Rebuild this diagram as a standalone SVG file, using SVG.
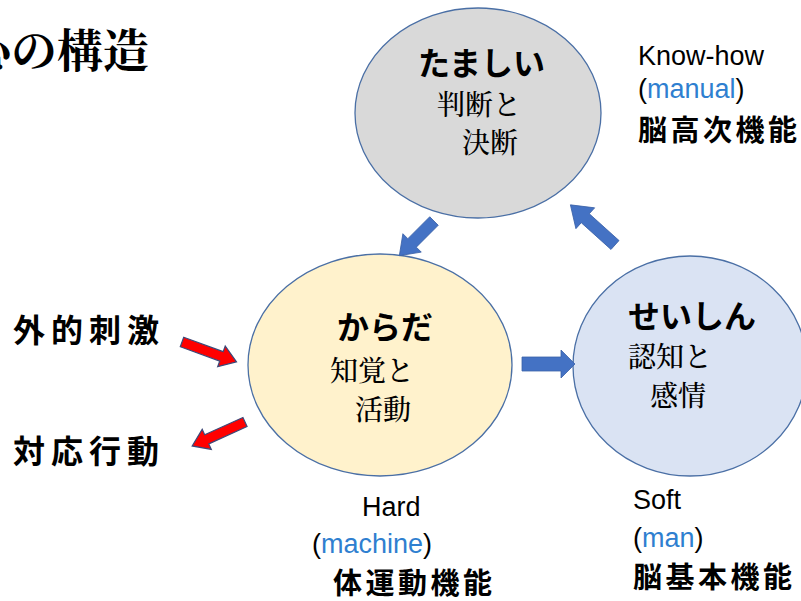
<svg xmlns="http://www.w3.org/2000/svg" width="801" height="601" viewBox="0 0 801 601">
<defs>
<style>
.node{stroke:#4a6fa5;stroke-width:1.3}
.title{font-family:"Noto Serif CJK JP","Noto Sans CJK JP",serif;font-weight:bold;font-size:46px;fill:#000}
.head{font-family:"Noto Sans CJK JP",sans-serif;font-weight:bold;font-size:32px;fill:#000}
.sub{font-family:"Noto Serif CJK JP","Liberation Serif","Noto Sans CJK JP",serif;font-size:28px;font-weight:500;fill:#000}
.lat{font-family:"Liberation Sans","Noto Sans CJK JP",sans-serif;font-size:27px;fill:#000}
.blue{fill:#2f7fd0}
.jp{font-family:"Noto Sans CJK JP",sans-serif;font-weight:bold;font-size:29px;letter-spacing:3.5px;fill:#000}
.side{font-family:"Noto Sans CJK JP",sans-serif;font-weight:bold;font-size:32px;letter-spacing:6px;fill:#000}
.barrow{fill:#4472c4;stroke:#3b62a8;stroke-width:0.8}
.rarrow{fill:#ff0000;stroke:#3c4a7a;stroke-width:1.2}
</style>
</defs>
<rect width="801" height="601" fill="#ffffff"/>
<text class="title" x="-35" y="67">心の構造</text>

<g id="tamashii">
<ellipse class="node" cx="478" cy="113" rx="123" ry="105" fill="#d9d9d9"/>
<text class="head" x="418" y="75">たましい</text>
<text class="sub" x="437" y="115">判断と</text>
<text class="sub" x="462" y="153">決断</text>
</g>

<g id="karada">
<ellipse class="node" cx="380" cy="365" rx="132" ry="111" fill="#fff2cc"/>
<text class="head" x="337" y="339">からだ</text>
<text class="sub" x="330" y="381">知覚と</text>
<text class="sub" x="355" y="420">活動</text>
</g>

<g id="seishin">
<ellipse class="node" cx="690" cy="366" rx="117" ry="110" fill="#dae3f3"/>
<text class="head" x="628" y="328">せいしん</text>
<text class="sub" x="628" y="367">認知と</text>
<text class="sub" x="650" y="406">感情</text>
</g>

<g id="label-knowhow">
<text class="lat" x="638" y="65">Know-how</text>
<text class="lat" x="638" y="98">(<tspan class="blue">manual</tspan>)</text>
<text class="jp" x="638" y="141">脳高次機能</text>
</g>

<g id="label-hard">
<text class="lat" x="362" y="516">Hard</text>
<text class="lat" x="312" y="553">(<tspan class="blue">machine</tspan>)</text>
<text class="jp" x="333" y="594">体運動機能</text>
</g>

<g id="label-soft">
<text class="lat" x="633" y="509">Soft</text>
<text class="lat" x="633" y="547">(<tspan class="blue">man</tspan>)</text>
<text class="jp" x="633" y="588">脳基本機能</text>
</g>

<g id="stimulus">
<text class="side" x="13" y="342">外的刺激</text>
</g>
<g id="response">
<text class="side" x="13" y="463">対応行動</text>
</g>

<g id="connectors">
<polygon class="barrow" transform="translate(434,221) rotate(135)" points="0,-6 31,-6 31,-13 49,0 31,13 31,6 0,6"/>
<polygon class="barrow" transform="translate(615,245) rotate(-138)" points="0,-6 40,-6 40,-14 60,0 40,14 40,6 0,6"/>
<polygon class="barrow" transform="translate(522,364) rotate(0)" points="0,-7 39,-7 39,-14 53,0 39,14 39,7 0,7"/>
<polygon class="rarrow" transform="translate(182,342) rotate(20)" points="0,-5 42,-5 42,-11 58,0 42,11 42,5 0,5"/>
<polygon class="rarrow" transform="translate(245,422) rotate(155.6)" points="0,-5 42,-5 42,-11 58,0 42,11 42,5 0,5"/>
</g>
</svg>
